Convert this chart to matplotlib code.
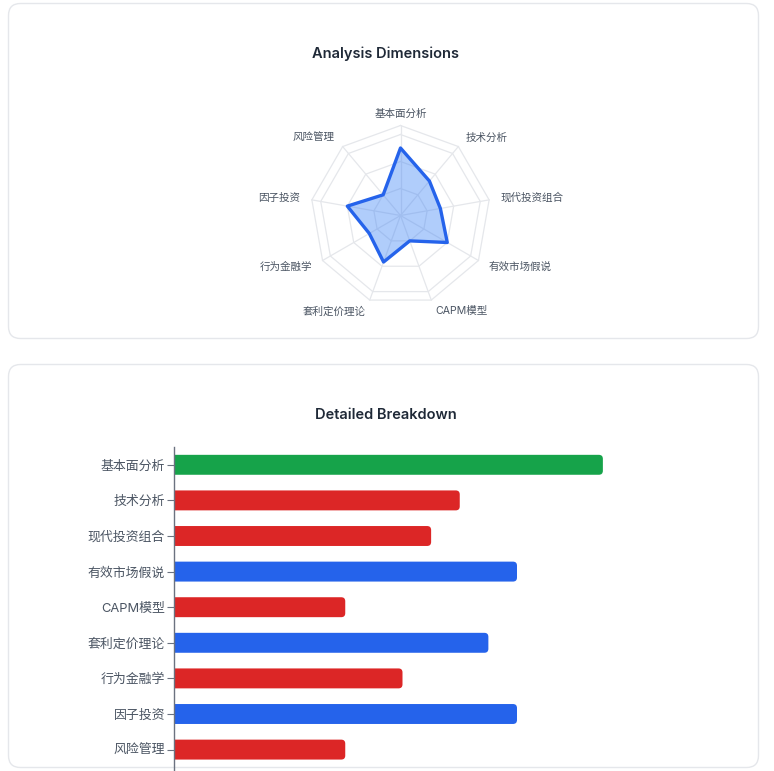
import numpy as np
import matplotlib
matplotlib.use('Agg')
import matplotlib.pyplot as plt
from matplotlib.patches import FancyBboxPatch, Polygon
from matplotlib.transforms import IdentityTransform

# ---------------- data ----------------
categories = ['基本面分析', '技术分析', '现代投资组合', '有效市场假说', 'CAPM模型',
              '套利定价理论', '行为金融学', '因子投资', '风险管理']
scores = [15, 10, 9, 12, 6, 11, 8, 12, 6]
bar_colors = ['#16a34a', '#dc2626', '#dc2626', '#2563eb', '#dc2626',
              '#2563eb', '#dc2626', '#2563eb', '#dc2626']
radar_max = 20
radar_rings = [6, 12, 18, 20]
bar_xmax = 20
title_top = 'Analysis Dimensions'
title_bottom = 'Detailed Breakdown'

FONTS = ['Inter', 'Noto Sans CJK SC', 'DejaVu Sans']
plt.rcParams['font.family'] = FONTS

W, H = 774, 771
fig = plt.figure(figsize=(W / 100, H / 100), dpi=100)
fig.patch.set_facecolor('white')


def fx(px):
    return px / W


def fy(py):
    return 1 - py / H


# ---------------- cards ----------------
for (x0, y0, x1, y1) in [(8.5, 3.5, 758.5, 338.5), (8.5, 364.5, 758.5, 767.5)]:
    card = FancyBboxPatch((x0, H - y1), x1 - x0, y1 - y0,
                          boxstyle='round,pad=0,rounding_size=12',
                          transform=IdentityTransform(),
                          facecolor='white', edgecolor='#e5e7eb', linewidth=1.0,
                          zorder=0)
    fig.add_artist(card)

fig.text(fx(385.5), fy(54), title_top, ha='center', va='center',
         fontsize=10.5, fontweight='semibold', color='#1f2937')
fig.text(fx(385.5), fy(415), title_bottom, ha='center', va='center',
         fontsize=10.5, fontweight='semibold', color='#1f2937')

# ---------------- radar ----------------
cx, cy, R = 400.5, 215.5, 90.0
half = 170
ax_r = fig.add_axes([fx(cx - half), fy(cy + half), 2 * half / W, 2 * half / H])
ax_r.set_xlim(-half, half)
ax_r.set_ylim(-half, half)
ax_r.axis('off')

n = len(categories)
theta = np.arange(n) * 2 * np.pi / n
sx, sy = np.sin(theta), np.cos(theta)

grid_c = '#e5e7eb'
for v in radar_rings:
    r = v / radar_max * R
    ax_r.plot(np.append(r * sx, r * sx[0]), np.append(r * sy, r * sy[0]),
              color=grid_c, lw=0.9, zorder=1)
for i in range(n):
    ax_r.plot([0, R * sx[i]], [0, R * sy[i]], color=grid_c, lw=0.9, zorder=1)

rv = np.array(scores) / radar_max * R
pts = np.column_stack([rv * sx, rv * sy])
ax_r.add_patch(Polygon(pts, closed=True, facecolor='#3b82f6', alpha=0.4,
                       edgecolor='none', zorder=2))
ax_r.add_patch(Polygon(pts, closed=True, facecolor='none', edgecolor='#2563eb',
                       linewidth=2.4, joinstyle='round', zorder=3))

r_lab = 102
for i, lab in enumerate(categories):
    if sx[i] > 0.1:
        ha = 'left'
    elif sx[i] < -0.1:
        ha = 'right'
    else:
        ha = 'center'
    ax_r.text(r_lab * sx[i], r_lab * sy[i], lab, ha=ha, va='center',
              fontsize=7.6, color='#4b5563')

# ---------------- bars ----------------
ax_left, ax_right, ax_top, ax_bot = 173.5, 746, 447, 771
band = 35.6
ax_b = fig.add_axes([fx(ax_left), fy(ax_bot), (ax_right - ax_left) / W,
                     (ax_bot - ax_top) / H])
ax_b.set_facecolor('none')
ylo = -0.5 + (ax_bot - ax_top) / band
ax_b.set_xlim(0, bar_xmax)
ax_b.set_ylim(ylo, -0.5)

ypos = np.arange(n)
bar_h = 0.56
bars = ax_b.barh(ypos, scores, height=bar_h, color=bar_colors)

px_x = (ax_right - ax_left) / bar_xmax      # px per x unit
px_y = (ax_bot - ax_top) / (ylo + 0.5)      # px per y unit
rad_px = 4.0
ext = 6.0 / px_x
for b, c in zip(bars, bar_colors):
    x0, y0, w, h = b.get_x(), b.get_y(), b.get_width(), b.get_height()
    b.remove()
    p = FancyBboxPatch((x0 - ext, y0), w + ext, h,
                       boxstyle='round,pad=0,rounding_size=%f' % (rad_px / px_x),
                       mutation_aspect=(1 / px_y) / (1 / px_x),
                       facecolor=c, edgecolor='none', zorder=1)
    ax_b.add_patch(p)

for s in ['top', 'right', 'bottom']:
    ax_b.spines[s].set_visible(False)
ax_b.spines['left'].set_color('#6b7280')
ax_b.spines['left'].set_linewidth(1.0)
ax_b.set_xticks([])
ax_b.set_yticks(ypos)
ax_b.set_yticklabels(categories)
ax_b.tick_params(axis='y', length=5, width=0.8, color='#6b7280',
                 labelsize=9.3, labelcolor='#4b5563', pad=1)

fig.savefig('out.png', dpi=100, facecolor='white')
